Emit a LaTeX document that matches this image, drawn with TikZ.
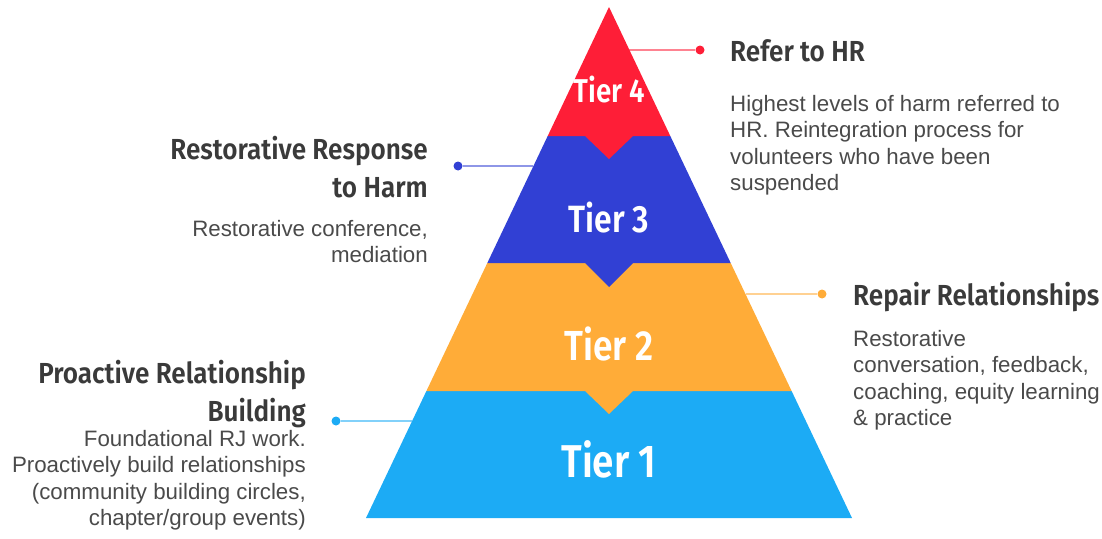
\documentclass[tikz,border=0pt]{standalone}
\usepackage{fontspec}
\setmainfont{Liberation Sans}
\newfontfamily\headfont[FakeStretch=0.9]{Fira Sans SemiBold}
\newfontfamily\tierfont[FakeStretch=0.84]{Fira Sans SemiBold}
\definecolor{tierred}{HTML}{FE1E37}
\definecolor{tierblue}{HTML}{3140D4}
\definecolor{tierorange}{HTML}{FFAC38}
\definecolor{tiersky}{HTML}{1CABF5}
\definecolor{headgray}{HTML}{3A3A3A}
\definecolor{bodygray}{HTML}{4A4A4A}
\begin{document}
\begin{tikzpicture}[x=1pt,y=-1pt,
  heading/.style={font=\headfont\fontsize{29}{38}\selectfont, text=headgray, inner sep=0pt},
  body/.style={font=\fontsize{22.3}{26.5}\selectfont, text=bodygray, inner sep=0pt},
  tierlabel/.style={text=white, inner sep=0pt, anchor=base},
  dot/.style={circle, fill=#1, draw=none, inner sep=0pt, minimum size=9pt},
  leader/.style={draw=#1!55!white, line width=2pt}]
\useasboundingbox (0,0) rectangle (1102,538);

% leader lines with their end dots
\node[dot=tierred] (d4) at (700,50) {};
\coordinate (e4) at (629.4,50);
\draw[leader=tierred] (e4) -- (d4);

\node[dot=tierblue] (d3) at (458,166) {};
\coordinate (e3) at (533.4,166);
\draw[leader=tierblue] (e3) -- (d3);

\node[dot=tierorange] (d2) at (822,294) {};
\coordinate (e2) at (745.5,294);
\draw[leader=tierorange] (e2) -- (d2);

\node[dot=tiersky] (d1) at (336,421) {};
\coordinate (e1) at (412.1,421);
\draw[leader=tiersky] (e1) -- (d1);

% pyramid tiers, bottom first so each notch overlaps the tier below
\fill[tiersky] (366,518) -- (852,518) -- (791.6,391) -- (426.4,391) -- cycle;
\fill[tierorange] (426.4,391) -- (585,391) -- (609,414) -- (633,391) -- (791.6,391)
  -- (730.7,263) -- (487.3,263) -- cycle;
\fill[tierblue] (487.3,263) -- (585,263) -- (609,287) -- (633,263) -- (730.7,263)
  -- (670.3,136) -- (547.7,136) -- cycle;
\fill[tierred] (547.7,136) -- (585,136) -- (609,159) -- (633,136) -- (670.3,136)
  -- (609,7) -- cycle;

% tier names
\node[tierlabel, font=\tierfont\fontsize{33}{33}\selectfont] (t4) at (609,102) {Tier 4};
\node[tierlabel, font=\tierfont\fontsize{38}{38}\selectfont] (t3) at (609,232) {Tier 3};
\node[tierlabel, font=\tierfont\fontsize{42}{42}\selectfont] (t2) at (609,360) {Tier 2};
\node[tierlabel, font=\tierfont\fontsize{46}{46}\selectfont] (t1) at (609,477) {Tier 1};

% tier 4 (multi-line nodes are placed by the baseline of their last line)
\node[heading, anchor=base west] (h4) at (730,61) {Refer to HR};
\node[body, anchor=base west, align=left] (b4) at (730,190.5)
  {Highest levels of harm referred to\\HR. Reintegration process for\\volunteers who have been\\suspended};

% tier 3
\node[heading, anchor=base east, align=right] (h3) at (428,197)
  {Restorative Response\\to Harm};
\node[body, anchor=base east, align=right] (b3) at (428,262.5)
  {Restorative conference,\\mediation};

% tier 2
\node[heading, anchor=base west] (h2) at (853,305) {Repair Relationships};
\node[body, anchor=base west, align=left] (b2) at (853,425.5)
  {Restorative\\conversation, feedback,\\coaching, equity learning\\\& practice};

% tier 1
\node[heading, anchor=base east, align=right] (h1) at (306,421)
  {Proactive Relationship\\Building};
\node[body, anchor=base east, align=right] (b1) at (306,525.5)
  {Foundational RJ work.\\Proactively build relationships\\(community building circles,\\chapter/group events)};
\end{tikzpicture}
\end{document}
